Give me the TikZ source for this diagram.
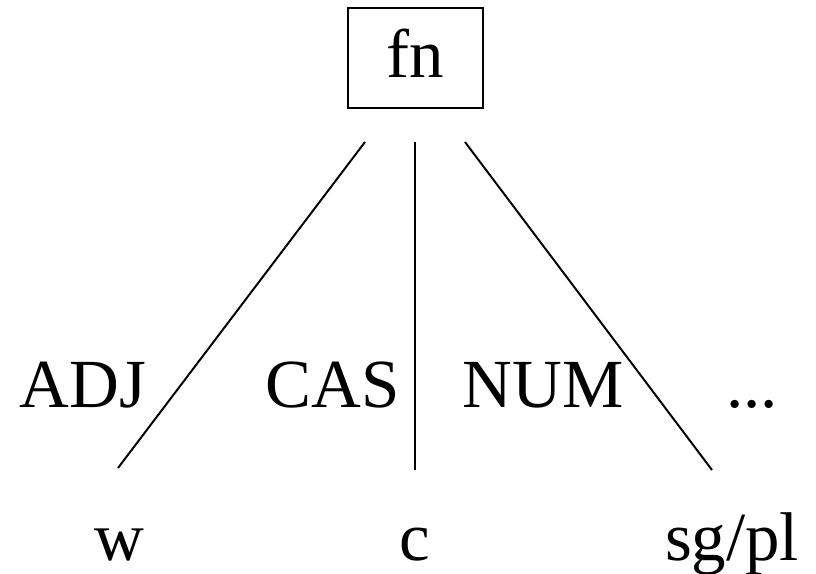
\documentclass[tikz,border=0pt]{standalone}
\usepackage{fontspec}
\setmainfont{Liberation Serif}
\usepackage{tikz}
\usetikzlibrary{positioning}
\tikzset{
  lbl/.style={anchor=base, inner sep=0pt, font=\fontsize{49}{58}\selectfont},
  edge/.style={line width=1.4pt, black}
}

\begin{document}
\begin{tikzpicture}[x=0.025cm, y=-0.025cm]
  \useasboundingbox (0,0) rectangle (816,573);
  \node[draw, line width=1.4pt, minimum width=3.37cm, minimum height=2.5cm, inner sep=0pt] (fn) at (415.5,58) {};
  \node[lbl] (fnt) at (415,77) {fn};
  % branch ends
  \coordinate (t1) at (365,142);
  \coordinate (t2) at (415,142);
  \coordinate (t3) at (465,142);
  \coordinate (b1) at (118,468);
  \coordinate (b2) at (415,470);
  \coordinate (b3) at (712,470);
  \draw[edge] (t1) -- (b1);
  \draw[edge] (t2) -- (b2);
  \draw[edge] (t3) -- (b3);
  % features
  \node[lbl] (adj) at (83,407) {ADJ};
  \node[lbl] (cas) at (333,407) {CAS};
  \node[lbl] (num) at (543,407) {NUM};
  \node[lbl] (more) at (752,407) {...};
  % values
  \node[lbl] (w) at (119,560) {w};
  \node[lbl] (c) at (415,560) {c};
  \node[lbl] (sgpl) at (732,560) {sg/pl};
\end{tikzpicture}
\end{document}
